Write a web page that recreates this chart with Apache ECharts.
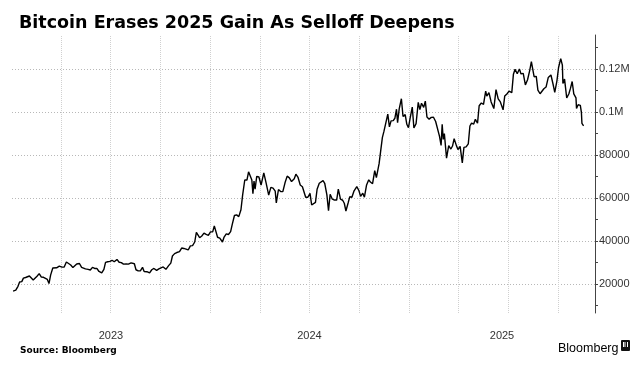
<!DOCTYPE html>
<html>
<head>
<meta charset="utf-8">
<script src="https://cdn.jsdelivr.net/npm/echarts@6/dist/echarts.min.js"></script>
<style>
html,body{margin:0;padding:0;background:#fff;}
#chart{width:643px;height:369px;}
</style>
</head>
<body>
<div id="chart"></div>
<script>
// ---- Data ----
var titleText = 'Bitcoin Erases 2025 Gain As Selloff Deepens';
var sourceText = 'Source: Bloomberg';
var brandText = 'Bloomberg';

var dates = [
'2023-01-03','2023-01-08','2023-01-12','2023-01-15','2023-01-19','2023-01-22','2023-01-26','2023-01-29',
'2023-02-02','2023-02-05','2023-02-09','2023-02-12','2023-02-16','2023-02-20','2023-02-24','2023-02-28',
'2023-03-03','2023-03-07','2023-03-10','2023-03-13','2023-03-17','2023-03-20','2023-03-24','2023-03-29',
'2023-04-03','2023-04-07','2023-04-11','2023-04-14','2023-04-19','2023-04-23','2023-04-26','2023-04-30',
'2023-05-05','2023-05-09','2023-05-12','2023-05-16','2023-05-21','2023-05-25','2023-05-29',
'2023-06-02','2023-06-06','2023-06-10','2023-06-15','2023-06-19','2023-06-22','2023-06-26','2023-06-30',
'2023-07-04','2023-07-08','2023-07-13','2023-07-17','2023-07-21','2023-07-25','2023-07-30',
'2023-08-03','2023-08-08','2023-08-14','2023-08-17','2023-08-21','2023-08-25','2023-08-29',
'2023-09-01','2023-09-06','2023-09-11','2023-09-15','2023-09-19','2023-09-24','2023-09-28',
'2023-10-02','2023-10-06','2023-10-11','2023-10-16','2023-10-20','2023-10-23','2023-10-27','2023-10-31',
'2023-11-05','2023-11-09','2023-11-13','2023-11-17','2023-11-21','2023-11-25','2023-11-29',
'2023-12-03','2023-12-06','2023-12-09','2023-12-12','2023-12-16','2023-12-20','2023-12-24','2023-12-28',
'2024-01-01','2024-01-05','2024-01-08','2024-01-11','2024-01-14','2024-01-18','2024-01-23','2024-01-26','2024-01-30',
'2024-02-03','2024-02-07','2024-02-10','2024-02-14','2024-02-18','2024-02-22','2024-02-26','2024-02-29',
'2024-03-04','2024-03-08','2024-03-11','2024-03-14','2024-03-17','2024-03-19','2024-03-21','2024-03-23','2024-03-26','2024-03-30',
'2024-04-03','2024-04-08','2024-04-12','2024-04-17','2024-04-21','2024-04-25','2024-04-29',
'2024-05-01','2024-05-05','2024-05-09','2024-05-13','2024-05-17','2024-05-21','2024-05-25','2024-05-29',
'2024-06-03','2024-06-06','2024-06-10','2024-06-14','2024-06-18','2024-06-24','2024-06-28',
'2024-07-02','2024-07-05','2024-07-08','2024-07-12','2024-07-15','2024-07-19','2024-07-22','2024-07-26','2024-07-29',
'2024-08-02','2024-08-05','2024-08-08','2024-08-12','2024-08-16','2024-08-20','2024-08-23','2024-08-27','2024-08-31',
'2024-09-03','2024-09-06','2024-09-10','2024-09-13','2024-09-17','2024-09-21','2024-09-26','2024-09-30',
'2024-10-03','2024-10-07','2024-10-10','2024-10-14','2024-10-18','2024-10-21','2024-10-25','2024-10-29',
'2024-11-01','2024-11-04','2024-11-06','2024-11-09','2024-11-12','2024-11-15','2024-11-18','2024-11-22','2024-11-25','2024-11-28',
'2024-12-02','2024-12-05','2024-12-08','2024-12-10','2024-12-13','2024-12-17','2024-12-20','2024-12-24','2024-12-27','2024-12-30',
'2025-01-02','2025-01-06','2025-01-09','2025-01-13','2025-01-17','2025-01-20','2025-01-23','2025-01-27','2025-01-30',
'2025-02-02','2025-02-06','2025-02-10','2025-02-14','2025-02-18','2025-02-21','2025-02-25','2025-02-28',
'2025-03-02','2025-03-04','2025-03-06','2025-03-10','2025-03-14','2025-03-18','2025-03-21','2025-03-24','2025-03-28','2025-03-31',
'2025-04-04','2025-04-08','2025-04-11','2025-04-15','2025-04-19','2025-04-22','2025-04-25','2025-04-29',
'2025-05-02','2025-05-06','2025-05-09','2025-05-13','2025-05-17','2025-05-21','2025-05-23','2025-05-27','2025-05-31',
'2025-06-05','2025-06-09','2025-06-13','2025-06-17','2025-06-22','2025-06-25','2025-06-29',
'2025-07-03','2025-07-08','2025-07-11','2025-07-14','2025-07-18','2025-07-22','2025-07-25','2025-07-29',
'2025-08-02','2025-08-06','2025-08-10','2025-08-13','2025-08-18','2025-08-22','2025-08-25','2025-08-29',
'2025-09-01','2025-09-05','2025-09-09','2025-09-13','2025-09-18','2025-09-22','2025-09-25','2025-09-29',
'2025-10-02','2025-10-06','2025-10-09','2025-10-10','2025-10-13','2025-10-17','2025-10-21','2025-10-24','2025-10-27','2025-10-30',
'2025-11-03','2025-11-04','2025-11-07','2025-11-11','2025-11-13','2025-11-14','2025-11-17'
];

var prices = [
16700,17100,18900,20900,21100,22700,23000,23800,
23700,22900,21800,21800,23600,24800,23200,23100,
22400,22100,20200,24100,27400,28000,27500,28300,
27800,27900,30200,30500,28800,27600,28400,29300,
29500,27700,26800,27000,26800,26500,27700,
27200,27200,25800,25100,26800,30000,30300,30500,
31000,30300,31400,30100,29900,29200,29300,
29200,29800,29400,26600,26100,26100,27700,
25800,25700,25100,26600,27200,26300,27000,
27500,27900,26800,28500,29700,33000,34100,34600,
35000,36700,36500,36200,35800,37700,37800,
39500,44000,43800,41500,42300,43600,43000,42600,
44200,44200,47000,46600,41700,41300,39500,41800,43300,
43000,44300,47700,51800,52100,51300,54500,61200,
68300,68300,72100,71400,68300,62000,67800,64000,70000,69700,
66000,71600,67200,61300,64900,64500,63100,
57700,63900,63000,62900,67000,70100,69300,67600,
68900,71000,69500,66000,65200,60300,60300,
62100,56700,56700,57900,64000,66800,67600,68000,66800,
61400,54000,61700,59400,59000,59000,64100,59400,58900,
57500,53900,57600,60500,60300,63300,65200,63300,
60700,62200,60300,66000,68400,67400,66600,72700,
69400,68700,75900,76700,88000,91000,90500,98900,93000,95800,
95900,97000,101200,95000,101400,106100,97800,98700,94200,92600,
97000,102200,92500,94500,104400,101000,104000,102100,105000,
97600,96600,97400,97500,95500,96100,88700,84400,
94200,87200,89900,78500,84300,82700,84100,87500,84400,82500,
83900,76300,83500,83700,85100,93400,94700,94300,
96500,94700,102800,104100,103500,109600,107300,108900,104600,
101500,110300,106000,104600,100900,107300,108300,
109600,108900,117500,119800,117700,119900,117600,117900,
112500,114900,119300,123300,116300,116500,110100,108400,
109200,110700,111500,115900,117100,112700,109000,114400,
120600,124700,121700,113200,115200,106400,108400,111000,114100,108300,
106500,101600,103300,103000,99700,94600,93500
];

var yTickValues = [10000,20000,30000,40000,50000,60000,70000,80000,90000,100000,110000,120000,130000];
var yLabelValues = [20000,40000,60000,80000,100000,120000];
var xGridDates = ['2023-04-01','2023-07-01','2023-10-01','2024-01-01','2024-04-01','2024-07-01','2024-10-01','2025-01-01','2025-04-01','2025-07-01','2025-10-01'];
var xTickLabels = ['2023','2024','2025'];
var xLabelDates = ['2023-07-02','2024-07-01','2025-06-20'];
var xStart = '2023-01-01';
var xEnd = '2025-12-08';

// ---- Build chart ----
function ts(s){ return Date.parse(s + 'T00:00:00Z'); }
var seriesData = dates.map(function(d,i){ return [ts(d), prices[i]]; });
var xLabelTs = xLabelDates.map(ts);

var markData = [];
yLabelValues.forEach(function(v){
  markData.push({yAxis: v, lineStyle:{color:'#b8b8b8', type:[1,2], width:1}});
});
xGridDates.forEach(function(d){
  markData.push({xAxis: ts(d), lineStyle:{color:'#d0d0d0', type:[1,1], width:1}});
});

var chart = echarts.init(document.getElementById('chart'), null, {renderer:'canvas'});
chart.setOption({
  animation: false,
  backgroundColor: '#ffffff',
  title: [
    {text: titleText, left: 14, top: 9,
     textStyle:{fontFamily:'DejaVu Sans', fontWeight:'bold', fontSize:17.5, color:'#000'}},
    {text: sourceText, left: 15, top: 341,
     textStyle:{fontFamily:'DejaVu Sans', fontWeight:'bold', fontSize:9, color:'#000'}},
    {text: brandText, left: 553, top: 337,
     textStyle:{fontFamily:'Liberation Sans', fontWeight:'normal', fontSize:12.5, color:'#000'}}
  ],
  graphic: [
    {type:'rect', left: 621, top: 340, shape:{width:9, height:11, r:1}, style:{fill:'#111'}},
    {type:'rect', left: 623, top: 342, shape:{width:5, height:5}, style:{fill:'#fff'}},
    {type:'rect', left: 624.5, top: 342, shape:{width:1, height:5}, style:{fill:'#111'}},
    {type:'rect', left: 626, top: 342, shape:{width:1, height:5}, style:{fill:'#111'}}
  ],
  grid: {left: 12, right: 48, top: 35, bottom: 56, containLabel: false},
  xAxis: {
    type: 'value',
    min: ts(xStart),
    max: ts(xEnd),
    axisLine: {show: false},
    axisTick: {show: false},
    splitLine: {show: false},
    axisLabel: {
      customValues: xLabelTs,
      margin: 17,
      fontFamily: 'Liberation Sans', fontSize: 11, color: '#333',
      formatter: function(v){
        var best = 0, bd = Infinity;
        xLabelTs.forEach(function(t,k){ var d=Math.abs(t-v); if(d<bd){bd=d;best=k;} });
        return xTickLabels[best];
      }
    }
  },
  yAxis: {
    type: 'value',
    position: 'right',
    min: 6500,
    max: 135700,
    axisLine: {show: true, lineStyle: {color: '#444', width: 1}},
    axisTick: {show: true, customValues: yTickValues, length: 3, inside: false, lineStyle:{color:'#444'}},
    splitLine: {show: false},
    axisLabel: {
      customValues: yLabelValues,
      margin: 4,
      fontFamily: 'Liberation Sans', fontSize: 11, color: '#333',
      formatter: function(v){ return v >= 100000 ? (v/1000000) + 'M' : String(v); }
    }
  },
  series: [{
    type: 'line',
    data: seriesData,
    showSymbol: false,
    symbol: 'none',
    lineStyle: {color: '#000', width: 1.4},
    z: 5,
    markLine: {
      silent: true,
      symbol: ['none','none'],
      label: {show: false},
      data: markData,
      z: 1
    }
  }]
});
</script>
</body>
</html>
